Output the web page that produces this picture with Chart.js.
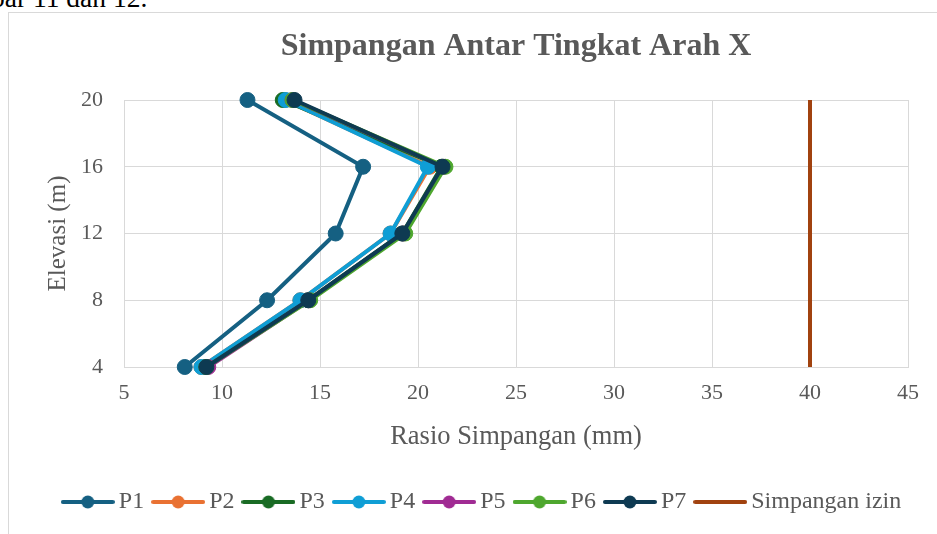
<!DOCTYPE html>
<html>
<head>
<meta charset="utf-8">
<script src="https://cdn.jsdelivr.net/npm/chart.js@4.4.1/dist/chart.umd.min.js"></script>
<style>
html, body { margin: 0; padding: 0; background: #fff; width: 937px; height: 534px; overflow: hidden; }
#doc { position: absolute; left: -9px; top: -16.5px; font: 27.5px "Liberation Serif"; line-height: 1; color: #000; white-space: nowrap; }
#frame { position: absolute; left: 8px; top: 12px; width: 960px; height: 560px; border-left: 1.5px solid #d9d9d9; border-top: 1.5px solid #d9d9d9; }
#wrap { position: absolute; left: 0; top: 0; width: 937px; height: 534px; }
</style>
</head>
<body>
<div id="doc">bar 11 dan 12.</div>
<div id="frame"></div>
<div id="wrap"><canvas id="chart"></canvas></div>
<script>
// Elevasi tiap lantai (m) dan rasio simpangan (mm) per portal
const elevations = [4, 8, 12, 16, 20];
const p1 = [8.1, 12.3, 15.8, 17.2, 11.3];
const p2 = [8.95, 14.0, 18.6, 20.6, 13.2];
const p3 = [9.2, 14.4, 19.2, 21.2, 13.1];
const p4 = [8.95, 14.0, 18.6, 20.5, 13.25];
const p5 = [9.3, 14.45, 19.25, 21.3, 13.6];
const p6 = [9.2, 14.5, 19.35, 21.4, 13.6];
const p7 = [9.2, 14.4, 19.2, 21.25, 13.7];
const simpanganIzin = 40;

const seriesNames = ['P1', 'P2', 'P3', 'P4', 'P5', 'P6', 'P7'];
const seriesValues = [p1, p2, p3, p4, p5, p6, p7];
const seriesColors = ['#156082', '#E97132', '#196B24', '#0F9ED5', '#A02B93', '#4EA72E', '#0E3A52'];
const limitColor = '#A1420F';

const xTicks = [5, 10, 15, 20, 25, 30, 35, 40, 45];
const yTicks = [4, 8, 12, 16, 20];

const textColor = '#595959';
const gridColor = '#d9d9d9';
const serif = '"Liberation Serif", "Times New Roman", serif';

// legend marker: line with a dot in the middle, like Excel
function legendMarker(color, withDot) {
    const c = document.createElement('canvas');
    c.width = 54;
    c.height = 16;
    const g = c.getContext('2d');
    g.strokeStyle = color;
    g.lineWidth = 4;
    g.lineCap = 'round';
    g.beginPath();
    g.moveTo(2, 8);
    g.lineTo(52, 8);
    g.stroke();
    if (withDot) {
        g.fillStyle = color;
        g.beginPath();
        g.arc(27, 8, 6.5, 0, Math.PI * 2);
        g.fill();
    }
    return c;
}

const datasets = seriesNames.map((name, i) => ({
    label: name,
    data: elevations.map((y, j) => ({ x: seriesValues[i][j], y: y })),
    showLine: true,
    borderColor: seriesColors[i],
    backgroundColor: seriesColors[i],
    pointBackgroundColor: seriesColors[i],
    pointBorderColor: seriesColors[i],
    borderWidth: 4,
    pointRadius: 7.5,
    pointBorderWidth: 1,
    order: 10 - i,
    clip: false,
    marker: legendMarker(seriesColors[i], true)
}));

datasets.push({
    label: 'Simpangan izin',
    data: [
        { x: simpanganIzin, y: yTicks[0] },
        { x: simpanganIzin, y: yTicks[yTicks.length - 1] }
    ],
    showLine: true,
    borderColor: limitColor,
    backgroundColor: limitColor,
    borderWidth: 4,
    pointRadius: 0,
    order: 1,
    clip: false,
    marker: legendMarker(limitColor, false)
});

new Chart(document.getElementById('chart'), {
    type: 'scatter',
    data: { datasets: datasets },
    options: {
        responsive: true,
        maintainAspectRatio: false,
        animation: false,
        layout: { padding: { left: 53, right: 20, top: 0, bottom: 10 } },
        scales: {
            x: {
                type: 'linear',
                min: xTicks[0],
                max: xTicks[xTicks.length - 1],
                afterBuildTicks: s => { s.ticks = xTicks.map(v => ({ value: v })); },
                afterFit: s => { s.height = 108; },
                ticks: { padding: 13, color: textColor, font: { family: serif, size: 22 } },
                grid: { color: gridColor, lineWidth: 1, drawTicks: false },
                border: { color: gridColor },
                title: {
                    display: true,
                    text: 'Rasio Simpangan (mm)',
                    color: textColor,
                    font: { family: serif, size: 26.5 },
                    padding: { top: 0, bottom: 22 }
                }
            },
            y: {
                type: 'linear',
                min: yTicks[0],
                max: yTicks[yTicks.length - 1],
                afterBuildTicks: s => { s.ticks = yTicks.map(v => ({ value: v })); },
                afterFit: s => { s.width = 71; },
                ticks: { padding: 21, color: textColor, font: { family: serif, size: 22 } },
                grid: { color: gridColor, lineWidth: 1, drawTicks: false },
                border: { color: gridColor },
                title: {
                    display: true,
                    text: 'Elevasi (m)',
                    color: textColor,
                    font: { family: serif, size: 25 },
                    padding: { top: -10, bottom: 0 }
                }
            },
            // empty strip on the right so the plot ends where the reference does
            yRight: {
                type: 'linear',
                position: 'right',
                ticks: { display: false },
                grid: { display: false },
                border: { display: false },
                afterFit: s => { s.width = 9; }
            }
        },
        plugins: {
            title: {
                display: true,
                fullSize: false,
                text: 'Simpangan Antar Tingkat Arah X',
                color: textColor,
                font: { family: serif, size: 32, weight: 'bold' },
                padding: { top: 28, bottom: 33.6 }
            },
            legend: {
                position: 'bottom',
                labels: {
                    usePointStyle: true,
                    pointStyleWidth: 38,
                    padding: 15,
                    color: textColor,
                    font: { family: serif, size: 24 },
                    generateLabels: function(chart) {
                        const items = Chart.defaults.plugins.legend.labels.generateLabels(chart);
                        items.forEach(it => { it.pointStyle = chart.data.datasets[it.datasetIndex].marker; });
                        return items.sort((a, b) => a.datasetIndex - b.datasetIndex);
                    }
                }
            },
            tooltip: { enabled: false }
        }
    }
});
</script>
</body>
</html>
